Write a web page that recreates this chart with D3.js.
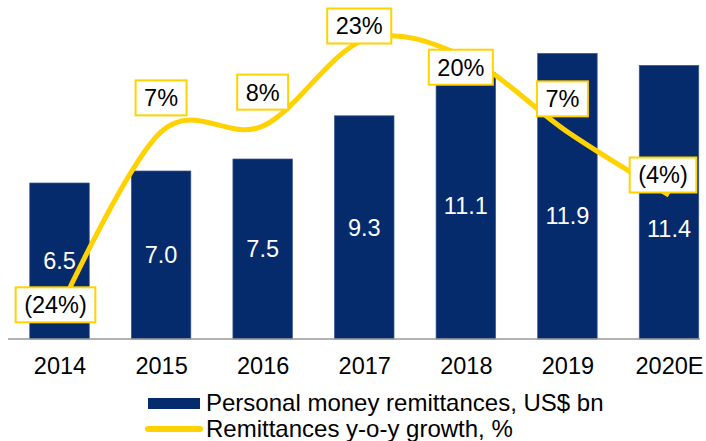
<!DOCTYPE html>
<html>
<head>
<meta charset="utf-8">
<script src="https://cdn.jsdelivr.net/npm/d3@7"></script>
<style>
  body { margin: 0; background: #fff; }
  svg { display: block; font-family: "Liberation Sans", Arial, sans-serif; }
</style>
</head>
<body>
<div id="chart"></div>
<script>
var years = ["2014", "2015", "2016", "2017", "2018", "2019", "2020E"];
var remittances = [6.5, 7.0, 7.5, 9.3, 11.1, 11.9, 11.4];
var growth = [-24, 7, 8, 23, 20, 7, -4];
var growthLabels = ["(24%)", "7%", "8%", "23%", "20%", "7%", "(4%)"];

var w = 706, h = 441;
var navy = "#062b6d", gold = "#ffd200";
var fs = 23.5;

// label nudges (layout only)
var boxDx = [-4, 0, 0, -5, -5, -5, -6];
var boxDy = [-5, -34, -34, -14, 10, -33, -20];
var valDy = [0, 0, 0, 0, 0, 19, 26];

var svg = d3.select("#chart").append("svg")
  .attr("width", w)
  .attr("height", h);

var x = d3.scalePoint().domain(years).range([59.5, 669]);
var bw = 59.5;
var y = d3.scaleLinear().domain([0, 12]).range([339, 51]);
var y2 = d3.scaleLinear().domain([-4, 23]).range([195, 40]);

// bars
svg.selectAll("rect.bar")
  .data(remittances)
  .enter()
  .append("rect")
  .attr("class", "bar")
  .attr("x", function(d, i) { return x(years[i]) - bw / 2; })
  .attr("y", function(d) { return y(d); })
  .attr("width", bw)
  .attr("height", function(d) { return y(0) - y(d); })
  .attr("fill", navy)
  .attr("stroke", "#3a5890")
  .attr("stroke-width", 0.7);

// bar values
svg.selectAll("text.val")
  .data(remittances)
  .enter()
  .append("text")
  .attr("class", "val")
  .attr("x", function(d, i) { return x(years[i]); })
  .attr("y", function(d, i) { return (y(d) + y(0)) / 2 + valDy[i]; })
  .attr("dy", "0.36em")
  .attr("text-anchor", "middle")
  .attr("fill", "#fff")
  .attr("font-size", fs)
  .text(function(d) { return d.toFixed(1); });

// axis
var axis = svg.append("g")
  .attr("transform", "translate(0," + y(0) + ")")
  .call(d3.axisBottom(x).tickSize(0).tickPadding(18));
axis.select(".domain").remove();
axis.append("line")
  .attr("x1", 8).attr("x2", 700)
  .attr("stroke", "#999").attr("stroke-width", 1.6);
axis.selectAll("text")
  .attr("font-size", fs)
  .attr("fill", "#000")
  .attr("font-family", "Liberation Sans, Arial, sans-serif");

// growth line
var line = d3.line()
  .x(function(d, i) { return x(years[i]); })
  .y(function(d) { return y2(d); })
  .curve(d3.curveCardinal.tension(0));

svg.append("path")
  .datum(growth)
  .attr("d", line)
  .attr("fill", "none")
  .attr("stroke", gold)
  .attr("stroke-width", 5);

// growth labels in boxes
var lab = svg.selectAll("g.lab")
  .data(growth)
  .enter()
  .append("g")
  .attr("class", "lab")
  .attr("transform", function(d, i) {
    return "translate(" + (x(years[i]) + boxDx[i]) + "," + (y2(d) + boxDy[i]) + ")";
  });

lab.append("rect").attr("fill", "#fff").attr("stroke", gold).attr("stroke-width", 2);
lab.append("text")
  .attr("text-anchor", "middle")
  .attr("dy", "0.36em")
  .attr("font-size", fs)
  .attr("fill", "#000")
  .text(function(d, i) { return growthLabels[i]; });
lab.each(function() {
  var g = d3.select(this);
  var tw = g.select("text").node().getComputedTextLength();
  g.select("rect")
    .attr("x", -tw / 2 - 8.5).attr("y", -17.5)
    .attr("width", tw + 17).attr("height", 35);
});

// legend
var legend = svg.append("g");
legend.append("rect")
  .attr("x", 148).attr("y", 398).attr("width", 52).attr("height", 11)
  .attr("fill", navy);
legend.append("line")
  .attr("x1", 148).attr("x2", 200).attr("y1", 429).attr("y2", 429)
  .attr("stroke", gold).attr("stroke-width", 6).attr("stroke-linecap", "round");
legend.append("text")
  .attr("x", 206).attr("y", 411)
  .attr("font-size", 24)
  .text("Personal money remittances, US$ bn");
legend.append("text")
  .attr("x", 206).attr("y", 437)
  .attr("font-size", 24)
  .text("Remittances y-o-y growth, %");
</script>
</body>
</html>
